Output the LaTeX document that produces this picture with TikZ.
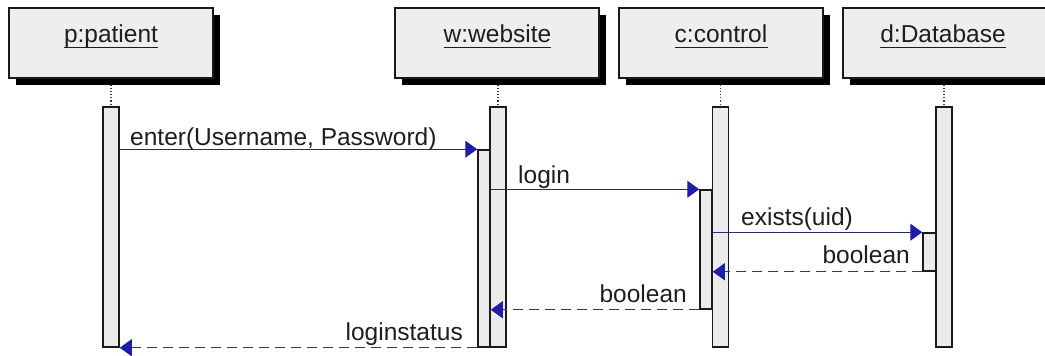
\documentclass[tikz,border=0pt]{standalone}
\usepackage{fontspec}
\setmainfont{Liberation Sans}
\usetikzlibrary{arrows.meta,shadows}
\definecolor{boxfill}{HTML}{EEEEEE}
\definecolor{barfill}{HTML}{EBEBEB}
\definecolor{edge}{HTML}{1A1A1A}
\definecolor{msgline}{HTML}{2A2A6E}
\definecolor{headblue}{HTML}{1E1EA8}
\definecolor{retline}{HTML}{3A3A3A}
\definecolor{txt}{HTML}{1E1E1E}
\tikzset{
  objbox/.style={draw=edge, fill=boxfill, line width=1.6pt, minimum width=204pt, minimum height=70pt,
    drop shadow={shadow xshift=7pt, shadow yshift=-7pt, fill=black, opacity=1}},
  objname/.style={inner sep=0pt, text=txt, font=\fontsize{24.5}{28}\selectfont},
  bar/.style={draw=edge, fill=barfill, line width=1.5pt, minimum width=16pt, inner sep=0pt},
  nest/.style={draw=edge, fill=barfill, line width=1.5pt, minimum width=12pt, inner sep=0pt},
  life/.style={draw=retline, line width=1.2pt, dotted},
  msg/.style={draw=msgline, line width=1.2pt, -{Triangle[length=12pt,width=17pt,color=headblue]}},
  ret/.style={draw=retline, line width=1.2pt, dash pattern=on 10pt off 6pt, -{Triangle[length=12pt,width=17pt,color=headblue]}},
  lbl/.style={inner sep=0pt, text=txt, font=\fontsize{24.5}{28}\selectfont}
}
\begin{document}
\begin{tikzpicture}[x=1pt,y=-1pt]
\useasboundingbox (0,0) rectangle (1045,356);
\fill[white] (0,0) rectangle (1045,356);
\clip (0,0) rectangle (1045,356);
% activation bars
\node[bar, minimum height=240pt] (pbar) at (111,227) {};
\node[bar, minimum height=240pt] (wbar) at (498,227) {};
\node[bar, minimum height=240pt] (cbar) at (720.5,227) {};
\node[bar, minimum height=240pt] (dbar) at (944,227) {};
\node[nest, minimum height=197pt] (wnest) at (484,248.5) {};
\node[nest, minimum height=119pt] (cnest) at (706,249.5) {};
\node[nest, minimum width=13pt, minimum height=38pt] (dnest) at (929.5,252) {};
% lifelines
\draw[life] (111,78) -- (pbar.north);
\draw[life] (498,78) -- (wbar.north);
\draw[life] (720.5,78) -- (cbar.north);
\draw[life] (944,78) -- (dbar.north);
% object boxes
\node[objbox] (pbox) at (111,43) {};
\node[objbox] (wbox) at (497,43) {};
\node[objbox] (cbox) at (721,43) {};
\node[objbox] (dbox) at (945,43) {};
\node[objname, anchor=base] (pname) at (111,42) {p:patient};
\node[objname, anchor=base] (wname) at (497.5,42) {w:website};
\node[objname, anchor=base] (cname) at (721,42) {c:control};
\node[objname, anchor=base] (dname) at (943,42) {d:Database};
\foreach \n in {pname,wname,cname,dname}{
  \draw[txt, line width=1pt] ([yshift=-5pt]\n.base west) -- ([yshift=-5pt]\n.base east);
}
% messages
\draw[msg] (pbar.east |- wnest.north) -- (wnest.north west);
\draw[msg] (wnest.east |- cnest.north) -- (cnest.north west);
\draw[msg] (cnest.east |- dnest.north) -- (dnest.north west);
\draw[ret] (dnest.south west) -- (cnest.east |- dnest.south);
\draw[ret] (cnest.south west) -- (wnest.east |- cnest.south);
\draw[ret] (wnest.south west) -- (pbar.south east);
% labels
\node[lbl, anchor=base west] (l1) at (130,145) {enter(Username, Password)};
\node[lbl, anchor=base west] (l2) at (518,183) {login};
\node[lbl, anchor=base west] (l3) at (741,225) {exists(uid)};
\node[lbl, anchor=base east] (l4) at (910,263) {boolean};
\node[lbl, anchor=base east] (l5) at (687,302) {boolean};
\node[lbl, anchor=base east] (l6) at (463,340) {loginstatus};
\end{tikzpicture}
\end{document}
